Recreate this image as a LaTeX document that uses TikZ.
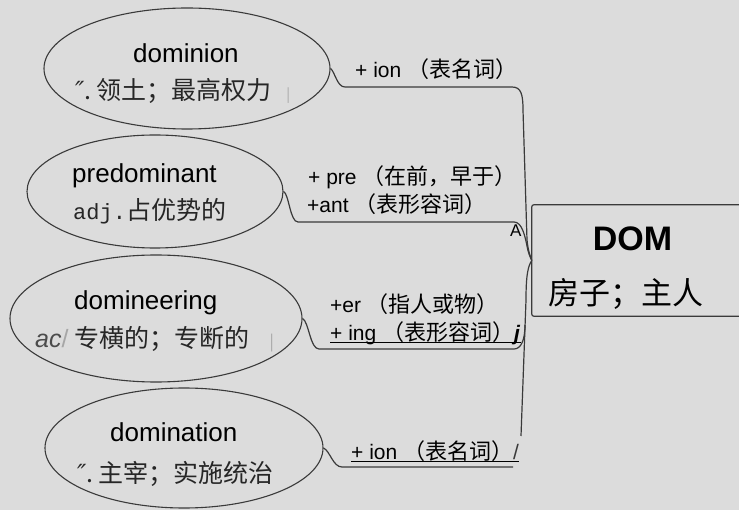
\documentclass[tikz,border=0pt]{standalone}
\usepackage{fontspec}
\setmainfont{Liberation Sans}
\setmonofont{Liberation Mono}
\newfontfamily\cjk{Noto Sans CJK SC}
\newfontfamily\primefont{DejaVu Sans}
\usetikzlibrary{shapes.geometric}

\definecolor{paper}{HTML}{DCDCDC}
\definecolor{ink}{HTML}{3A3A3A}
\definecolor{caret}{HTML}{A6A6A6}

\newcommand{\affzh}[1]{{\cjk\fontsize{22}{22}\selectfont #1}}

\begin{document}
\begin{tikzpicture}[x=1pt, y=-1pt,
    wordring/.style={ellipse, draw=ink, line width=1.1pt, inner sep=0pt},
    title/.style={anchor=base west, inner sep=0pt, text=black,
        font=\fontsize{26}{26}\selectfont},
    gloss/.style={anchor=base west, inner sep=0pt, text=black!85,
        font=\fontsize{25}{25}\selectfont\cjk},
    affix/.style={anchor=base west, inner sep=0pt, text=black,
        font=\fontsize{21}{21}\selectfont},
    branch/.style={draw=ink, line width=1.2pt},
    uline/.style={draw=black, line width=1pt},
]

% === Canvas ===
\fill[paper] (0,0) rectangle (739,510);
\useasboundingbox (0,0) rectangle (739,510);

% === Root box ===
\node[minimum width=207, minimum height=111, inner sep=0pt] (dom) at (635.5,260.5) {};
\draw[branch, rounded corners=2pt] (dom.north east) -- (dom.north west)
    -- (dom.south west) -- (dom.south east);
\node[anchor=base, inner sep=0pt, font=\fontsize{34}{34}\selectfont\bfseries]
    (domw) at (632.5,251) {DOM};
\node[anchor=base, inner sep=0pt, font=\fontsize{31}{31}\selectfont\cjk]
    (domg) at (626,305) {房子；主人};

% === Word ellipses ===
\node[wordring, minimum width=286, minimum height=121] (e1) at (187,68.5) {};
\node[title] (t1) at (133,63) {dominion};
\node[gloss] (g1) at (75,100)
    {{\primefont\itshape ″}.\hspace{5pt}领土；最高权力\hspace{15pt}{\color{caret}\fontsize{14}{14}\selectfont|}};

\node[wordring, minimum width=256, minimum height=113] (e2) at (155,191.5) {};
\node[title] (t2) at (72,183) {predominant};
\node[gloss] (g2) at (73,220)
    {{\ttfamily\fontsize{22}{22}\selectfont adj.}占优势的};

\node[wordring, minimum width=292, minimum height=127] (e3) at (156,318.5) {};
\node[title] (t3) at (74,310) {domineering};
\node[gloss] (g3) at (35,348)
    {{\rmfamily\itshape\color{black!70}ac}{\rmfamily\color{caret}/}\hspace{6pt}专横的；专断的\hspace{20pt}{\color{caret}\fontsize{16}{16}\selectfont|}};

\node[wordring, minimum width=278, minimum height=120] (e4) at (184,448) {};
\node[title] (t4) at (110,442) {domination};
\node[gloss] (g4) at (77,482)
    {{\primefont\itshape ″}.\hspace{5pt}主宰；实施统治};

% === Affix labels ===
\node[affix] (l1) at (355,78) {+ ion \affzh{（表名词）}};
\node[affix] (l2a) at (308,185) {+ pre \affzh{（在前，早于）}};
\node[affix] (l2b) at (307,213) {+ant \affzh{（表形容词）}};
\node[affix] (l3a) at (330,313) {+er \affzh{（指人或物）}};
\node[affix] (l3b) at (330,341) {+ ing \affzh{（表形容词）}\textit{\textbf{j}}};
\node[affix] (l4) at (351,459) {+ ion \affzh{（表名词）}{\color{ink}/}};
\node[affix, font=\fontsize{17}{17}\selectfont] (mark) at (510,237) {A};

\draw[uline] ([yshift=-2pt]l3b.base west) -- ([yshift=-2pt]l3b.base east);
\draw[uline] ([yshift=-2pt]l4.base west) -- ([yshift=-2pt]l4.base east);

% === Branches ===
\coordinate (tail) at (521,436);
\coordinate (knot) at (525,325);
\coordinate (stub) at (513,467);

\draw[branch] (e1.east) .. controls (335,72) and (337,87) .. (345,87)
    -- (512,87) .. controls (521,87) and (523,94) .. (523,110)
    -- (527,240) .. controls (528,250) and (530,256) .. (dom.west);
\draw[branch] (e2.east) .. controls (289,194) and (290,222) .. (298,222)
    -- (514,222) .. controls (522,222) and (525,236) .. (527,246)
    .. controls (528,252) and (530,257) .. (dom.west);
\draw[branch] (dom.west) .. controls (528,266) and (526,275) .. (526,300) -- (tail);
\draw[branch] (e3.east) .. controls (309,322) and (310,349) .. (319,349)
    -- (514,349) .. controls (521,349) and (525,340) .. (knot);
\draw[branch] (e4.east) .. controls (330,451) and (333,467) .. (342,467) -- (stub);

\end{tikzpicture}
\end{document}
